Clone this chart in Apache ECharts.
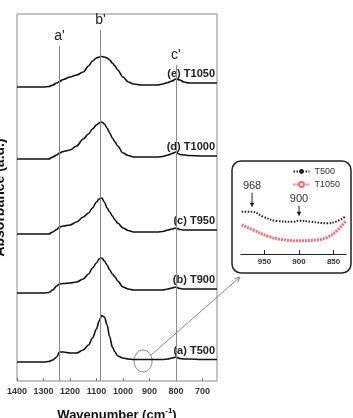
<!DOCTYPE html>
<html>
<head>
<meta charset="utf-8">
<script src="https://cdn.jsdelivr.net/npm/echarts@6/dist/echarts.min.js"></script>
<style>
html, body { margin: 0; padding: 0; background: #fff; }
#chart { width: 353px; height: 418px; }
</style>
</head>
<body>
<div id="chart"></div>
<script>
// wavenumber grid (cm-1) shared by the five spectra
const wavenumbers = [1400, 1300, 1280, 1265, 1250, 1240, 1225, 1200, 1175, 1150, 1130, 1115, 1100, 1090, 1080, 1070,
  1060, 1050, 1040, 1030, 1020, 1000, 980, 960, 930, 900, 870, 850, 830, 815, 800, 785, 770, 750, 700, 645]

// absorbance above each baseline (a.u.)
const t500 = [0, 0, 0.5, 2, 5, 10, 10, 9, 9, 12, 17, 24, 33, 41, 46.5, 45,
  37, 25, 15, 10, 6, 4, 3, 2.5, 2.5, 2.5, 2.5, 2.5, 3, 4, 5, 3.5, 3, 3, 2.5, 2.5]
const t900 = [0, 0, 0.5, 3, 7, 9, 9.5, 10, 11, 14, 19, 25, 30, 34, 35, 32,
  28, 23, 19, 16, 12, 6, 4, 3, 3, 3, 3, 3, 4, 5, 6, 4.5, 4, 4, 4, 4]
const t950 = [0, 0, 0, 2, 4.5, 7, 8, 9, 12, 17, 21, 26, 32, 35, 36, 32,
  26, 22, 18, 14, 11, 6, 3.5, 2, 2, 2, 2, 2.5, 4, 5, 6, 4.5, 4, 4, 4, 4]
const t1000 = [0, 0, 0, 2, 4, 6, 7.5, 9, 13, 20, 25, 30, 34, 36, 37, 35,
  31, 26, 21, 17, 13, 6, 3.5, 2, 2, 2, 2, 2.5, 4, 5.5, 7, 4.5, 4, 3.5, 3, 3]
const t1050 = [0, 0, 0.5, 2, 4, 5.5, 7.5, 10, 12, 15, 21, 26, 29, 30, 30.5, 30,
  29, 27, 24, 21, 17, 10, 5, 3, 2, 2, 2, 3, 4.5, 6, 8, 7, 5, 4, 4, 4]

const spectra = [t500, t900, t950, t1000, t1050]
const curveNames = ['(a) T500', '(b) T900', '(c) T950', '(d) T1000', '(e) T1050']
const offsets = [19, 88, 147, 222, 294]

const bandPositions = [1240, 1085, 800]
const bandNames = ["a'", "b'", "c'"]
const bandTops = [335, 351, 316]

const xTicks = [1400, 1300, 1200, 1100, 1000, 900, 800, 700]

// inset (zoom of T500 and T1050 around 968 / 900 cm-1)
const insetWnBlack = [983, 968, 952, 932, 908, 900, 883, 859, 844, 832]
const insetT500 = [42.3, 42.3, 37.3, 33, 32.3, 33.3, 32.3, 30.7, 33, 38]
const insetWnRed = [983, 966, 946, 927, 903, 874, 859, 844, 832]
const insetT1050 = [29, 24, 18, 14.7, 13.3, 14, 16.7, 24, 33.3]
const insetTicks = [950, 900, 850]
const insetMarks = [968, 900]
const zoomCenter = 924

const chart = echarts.init(document.getElementById('chart'))
const font = 'Liberation Sans, Arial, sans-serif'

const mainSeries = spectra.map((vals, k) => ({
  name: curveNames[k],
  type: 'line',
  xAxisIndex: 0,
  yAxisIndex: 0,
  smooth: 0.35,
  smoothMonotone: 'x',
  symbol: 'none',
  lineStyle: {color: '#111', width: 1.6},
  data: wavenumbers.map((w, i) => [w, vals[i] + offsets[k]]),
  markLine: k === 0 ? {
    silent: true,
    symbol: 'none',
    lineStyle: {color: '#8a8a8a', width: 1, type: 'solid'},
    label: {
      position: 'end', distance: 3, formatter: '{b}',
      fontFamily: font, fontSize: 14, color: '#222'
    },
    data: bandPositions.map((b, i) => [
      {name: bandNames[i], coord: [b, 0]},
      {coord: [b, bandTops[i]]}
    ])
  } : undefined
}))

const option = {
  animation: false,
  legend: {
    data: ['T500', 'T1050'],
    orient: 'vertical',
    right: 8,
    top: 162,
    itemWidth: 16,
    itemHeight: 6,
    itemGap: 4,
    textStyle: {fontFamily: font, fontSize: 9, color: '#333'}
  },
  grid: [
    {left: 17, right: 136, top: 14, bottom: 37, show: true, borderColor: '#888', borderWidth: 1, outerBoundsMode: 'none'},
    {left: 241, width: 105, top: 163, height: 91, outerBoundsMode: 'none'}
  ],
  xAxis: [
    {
      type: 'value', gridIndex: 0, inverse: true, min: 645, max: 1400,
      name: 'Wavenumber (cm{sup|-1})',
      nameLocation: 'middle', nameGap: 26,
      nameTextStyle: {
        fontFamily: font, fontSize: 13, fontWeight: 'bold', color: '#111',
        rich: {sup: {fontFamily: font, fontSize: 8, fontWeight: 'bold', verticalAlign: 'top', padding: [0, 0, 8, 0]}}
      },
      axisLine: {show: false},
      splitLine: {show: false},
      axisTick: {show: true, inside: true, length: 3, customValues: xTicks, lineStyle: {color: '#777'}},
      axisLabel: {customValues: xTicks, formatter: v => String(v), margin: 6, fontFamily: font, fontSize: 9, fontWeight: 'bold', color: '#333'}
    },
    {
      type: 'value', gridIndex: 1, inverse: true, min: 832, max: 984,
      axisLine: {show: true, lineStyle: {color: '#222', width: 1.2}},
      splitLine: {show: false},
      axisTick: {show: true, inside: true, length: 4, customValues: insetTicks, lineStyle: {color: '#222'}},
      axisLabel: {customValues: insetTicks, formatter: v => String(v), margin: 4, fontFamily: font, fontSize: 8, fontWeight: 'bold', color: '#333'}
    }
  ],
  yAxis: [
    {
      type: 'value', gridIndex: 0, min: 0, max: 367,
      name: 'Absorbance (a.u.)',
      nameLocation: 'middle', nameGap: 10,
      nameTextStyle: {fontFamily: font, fontSize: 14, fontWeight: 'bold', color: '#111'},
      axisLine: {show: false}, axisTick: {show: false}, axisLabel: {show: false}, splitLine: {show: false}
    },
    {
      type: 'value', gridIndex: 1, min: 0, max: 91, show: false
    }
  ],
  series: [
    ...mainSeries,
    {
      name: 'T500', type: 'line', xAxisIndex: 1, yAxisIndex: 1, smooth: 0.4,
      symbol: 'circle', symbolSize: 3, showSymbol: false,
      itemStyle: {color: '#222'},
      lineStyle: {color: '#222', width: 2, type: [1.5, 1.5]},
      data: insetWnBlack.map((w, i) => [w, insetT500[i]])
    },
    {
      name: 'T1050', type: 'line', xAxisIndex: 1, yAxisIndex: 1, smooth: 0.4,
      symbol: 'emptyCircle', symbolSize: 4, showSymbol: false,
      itemStyle: {color: '#f0707e'},
      lineStyle: {color: '#f0707e', width: 3, type: [2, 1]},
      data: insetWnRed.map((w, i) => [w, insetT1050[i]])
    }
  ]
}

chart.setOption(option)

// annotations placed through the axes
const graphics = []
spectra.forEach((vals, k) => {
  const last = wavenumbers.length - 1
  const p = chart.convertToPixel({gridIndex: 0}, [wavenumbers[last], vals[last] + offsets[k]])
  graphics.push({
    type: 'text', x: p[0] - 2, y: p[1] - 9,
    style: {
      text: curveNames[k], textAlign: 'right', textVerticalAlign: 'middle',
      fontFamily: 'Liberation Sans Narrow, Liberation Sans, Arial', fontSize: 11, fontWeight: 'bold', fill: '#222'
    }
  })
})

const c = chart.convertToPixel({gridIndex: 0}, [zoomCenter, offsets[0] + 1])
graphics.push({
  type: 'ellipse', shape: {cx: c[0], cy: c[1], rx: 9, ry: 11},
  style: {fill: 'none', stroke: '#888', lineWidth: 1}
})

// leader line from the circle to the inset box
const start = [c[0] + 8, c[1] - 6]
const end = [240, 277]
graphics.push({
  type: 'polyline', shape: {points: [start, end]},
  style: {stroke: '#888', lineWidth: 1}
})
graphics.push({
  type: 'polyline', shape: {points: [[end[0] - 5.7, end[1] + 1.7], end, [end[0] - 2.4, end[1] + 5.5]]},
  style: {stroke: '#888', lineWidth: 1, fill: 'none'}
})

// inset frame
graphics.push({
  type: 'rect', shape: {x: 232, y: 161, width: 119, height: 112, r: 9},
  style: {fill: 'none', stroke: '#222', lineWidth: 1.5}
})

// inset arrows with labels
insetMarks.forEach((m, i) => {
  const yVal = i === 0 ? insetT500[1] : insetT500[5]
  const p = chart.convertToPixel({gridIndex: 1}, [m, yVal])
  const top = p[1] - (i === 0 ? 19 : 15)
  const tip = p[1] - 5
  graphics.push({
    type: 'text', x: p[0], y: top - 7,
    style: {text: String(m), textAlign: 'center', textVerticalAlign: 'middle', fontFamily: font, fontSize: 11, fill: '#333'}
  })
  graphics.push({
    type: 'polyline', shape: {points: [[p[0], top], [p[0], tip]]},
    style: {stroke: '#222', lineWidth: 1}
  })
  graphics.push({
    type: 'polygon', shape: {points: [[p[0] - 2.5, tip - 4], [p[0] + 2.5, tip - 4], [p[0], tip]]},
    style: {fill: '#222'}
  })
})

chart.setOption({graphic: graphics})
</script>
</body>
</html>
